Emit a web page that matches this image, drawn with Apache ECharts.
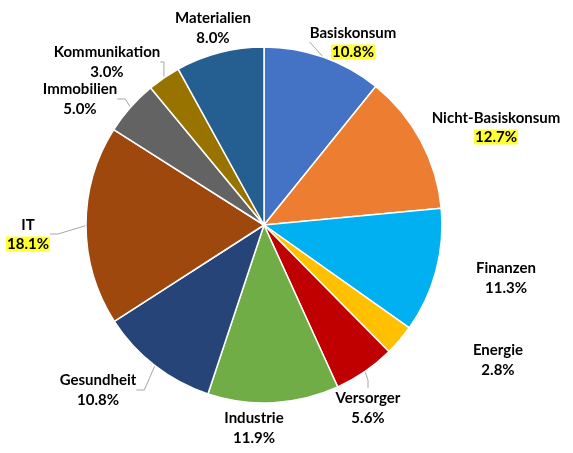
<!DOCTYPE html>
<html><head><meta charset="utf-8">
<script src="https://cdn.jsdelivr.net/npm/echarts@6/dist/echarts.min.js"></script>
<style>html,body{margin:0;padding:0;background:#fff}#c{width:573px;height:453px}</style>
</head><body><div id="c"></div>
<script>
const categories = ['Basiskonsum','Nicht-Basiskonsum','Finanzen','Energie','Versorger','Industrie','Gesundheit','IT','Immobilien','Kommunikation','Materialien'];
const values = [10.8, 12.7, 11.3, 2.8, 5.6, 11.9, 10.8, 18.1, 5.0, 3.0, 8.0];
const highlighted = ['Basiskonsum','Nicht-Basiskonsum','IT'];
const colors = ['#4472C4','#ED7D31','#00B0F0','#FFC000','#C00000','#70AD47','#264478','#9E480E','#636363','#997300','#255E91'];
// label centre positions (layout only)
const labelPos = [[353,42],[496,127],[506,278],[498,360],[368,408],[254,428],[98,390],[28,234],[80,99],[107,62],[213,28]];
const withLine = [true,false,false,false,true,false,true,true,true,true,false];

const chart = echarts.init(document.getElementById('c'));
chart.setOption({
  animation:false,
  color: colors,
  series:[{
    type:'pie',
    center:[264,225],
    radius:178,
    startAngle:90,
    clockwise:true,
    itemStyle:{borderColor:'#fff',borderWidth:1.5},
    label:{
      show:true,
      position:'outside',
      overflow:'none',
      fontFamily:'Lato',
      fontWeight:'bold',
      fontSize:15,
      color:'#000',
      lineHeight:20,
      align:'center',
      formatter:p => p.name + '\n' + (highlighted.includes(p.name) ? '{hl|' : '{n|') + p.value.toFixed(1) + '%}',
      rich:{
        n:{fontFamily:'Lato',fontWeight:'bold',fontSize:15,color:'#000',lineHeight:20},
        hl:{fontFamily:'Lato',fontWeight:'bold',fontSize:15,color:'#000',lineHeight:18,backgroundColor:'#FFFF33',padding:[0,1]}
      }
    },
    labelLine:{show:true,length:8,length2:8,lineStyle:{color:'#A6A6A6',width:1}},
    labelLayout: function(params){
      const p = labelPos[params.dataIndex];
      return {x:p[0], y:p[1], align:'center', verticalAlign:'middle'};
    },
    data: categories.map((c,i)=>({name:c,value:values[i],labelLine:{show:withLine[i]}}))
  }]
});
</script></body></html>
